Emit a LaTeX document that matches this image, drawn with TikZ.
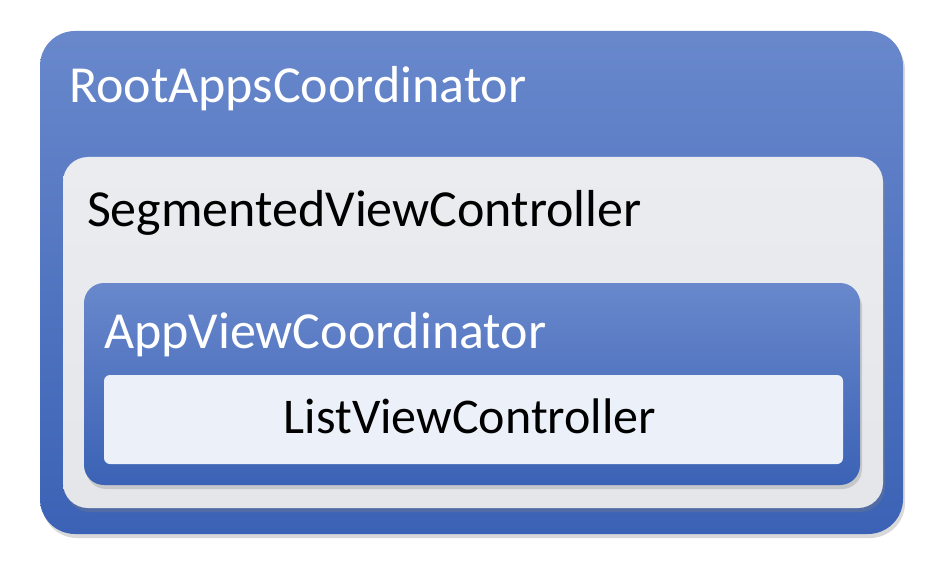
\documentclass[tikz,border=0pt]{standalone}
\usepackage{fontspec}
\setmainfont{Carlito}
\usetikzlibrary{positioning,shadows}
\definecolor{boxtop}{HTML}{6988CC}
\definecolor{boxbot}{HTML}{3B62B5}
\definecolor{paneltop}{HTML}{EBECF0}
\definecolor{panelbot}{HTML}{E5E6EA}
\definecolor{listfill}{HTML}{ECF0F8}
\begin{document}
\begin{tikzpicture}[x=1pt,y=-1pt]
                        \tikzstyle{every node}=[draw=none,rectangle,inner sep=0,outer sep=0]
                        \tikzstyle{layer}=[top color=boxtop,bottom color=boxbot,drop shadow={shadow xshift=2pt,shadow yshift=-4pt,opacity=0.3}]
                        \tikzstyle{panel}=[top color=paneltop,bottom color=panelbot,drop shadow={shadow xshift=2pt,shadow yshift=-4pt,opacity=0.3}]
                        \tikzstyle{title}=[anchor=base west,font=\fontsize{52}{60}\selectfont]
                        \useasboundingbox (0,0) rectangle (944,572);
                        {
                            \node[layer,rounded corners=35,minimum width=863,minimum height=503] (root) at (471.5,282.5) {};
                            \node[title,text=white] (roottxt) at (69,103) {RootAppsCoordinator};

                            \node[panel,rounded corners=25,minimum width=820,minimum height=351] (seg) at (473,332.5) {};
                            \node[title,text=black] (segtxt) at (87,226) {SegmentedViewController};

                            \node[layer,rounded corners=20,minimum width=776,minimum height=202] (app) at (472,384) {};
                            \node[title,text=white] (apptxt) at (104,348) {AppViewCoordinator};

                            \node[fill=listfill,rounded corners=6,minimum width=739,minimum height=89] (list) at (473.5,419.5) {};
                            \node[title,anchor=base,font=\fontsize{50}{60}\selectfont] (listtxt) at (470,433) {ListViewController};
                        }
                    \end{tikzpicture}
\end{document}
